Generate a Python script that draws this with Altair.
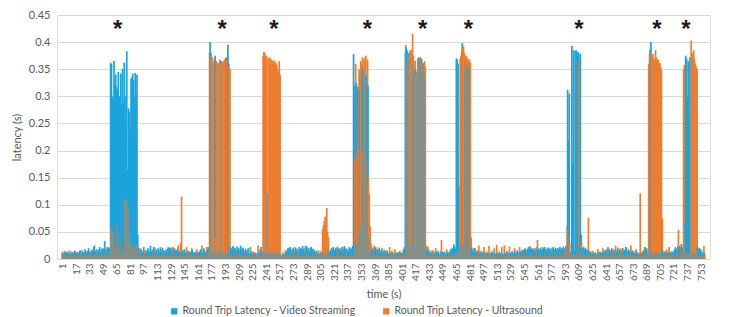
import altair as alt
import pandas as pd

N_TIMES = 757
TIMES = list(range(1, N_TIMES + 1))
X_TICKS = list(range(1, N_TIMES + 1, 16))
Y_TICKS = [0, 0.05, 0.1, 0.15, 0.2, 0.25, 0.3, 0.35, 0.4, 0.45]
SERIES = ["Round Trip Latency - Video Streaming", "Round Trip Latency - Ultrasound"]
COLORS = ["#1CA3DC", "#ED7D31"]
STAR_TIMES = [66, 189, 250, 360, 425, 479, 609, 701, 735]
STAR_LEVEL = 0.409

# Round trip latency, milliseconds, one value per second (rows of 20 seconds)
VIDEO_MS = [
    12, 10, 8, 14, 11, 9, 13, 10, 12, 8, 11, 14, 9, 12, 10, 15, 11, 9, 13, 10,
    12, 16, 10, 9, 14, 11, 13, 18, 10, 12, 15, 20, 11, 14, 12, 17, 13, 22, 25, 15,
    14, 18, 12, 16, 22, 13, 19, 15, 20, 17, 33, 18, 16, 22, 19, 21, 18, 362, 360, 300,
    295, 365, 322, 340, 318, 312, 345, 300, 290, 342, 285, 350, 288, 362, 300, 245, 383, 165, 278, 272,
    238, 332, 335, 342, 330, 300, 343, 305, 340, 45, 20, 15, 12, 18, 10, 14, 22, 12, 9, 16,
    11, 20, 13, 10, 24, 15, 12, 19, 22, 14, 10, 17, 12, 20, 15, 11, 18, 13, 21, 16,
    12, 15, 10, 18, 13, 22, 20, 16, 21, 14, 18, 12, 20, 15, 17, 13, 19, 11, 15, 12,
    14, 10, 16, 12, 18, 11, 13, 9, 15, 12, 10, 14, 11, 17, 12, 9, 13, 10, 15, 11,
    12, 10, 14, 18, 12, 9, 16, 20, 14, 11, 15, 18, 22, 10, 400, 380, 12, 10, 15, 11,
    375, 12, 10, 14, 11, 10, 13, 365, 12, 10, 15, 11, 12, 372, 12, 395, 360, 12, 22, 18,
    20, 24, 15, 21, 19, 12, 23, 17, 20, 14, 25, 18, 12, 21, 16, 10, 19, 14, 12, 20,
    10, 8, 15, 11, 9, 7, 12, 8, 10, 6, 9, 12, 8, 18, 22, 14, 12, 10, 14, 11,
    10, 120, 12, 10, 11, 13, 10, 12, 11, 10, 12, 10, 11, 13, 10, 12, 11, 8, 6, 7,
    9, 6, 8, 10, 14, 18, 20, 15, 22, 19, 13, 17, 21, 12, 16, 20, 14, 18, 12, 22,
    16, 20, 14, 24, 19, 13, 21, 17, 23, 15, 20, 12, 18, 22, 16, 19, 13, 17, 11, 15,
    9, 12, 8, 10, 14, 11, 9, 13, 10, 12, 8, 11, 9, 14, 12, 10, 16, 20, 15, 22,
    18, 14, 21, 17, 23, 19, 12, 20, 16, 22, 14, 18, 24, 20, 15, 19, 13, 17, 22, 16,
    20, 18, 24, 378, 320, 30, 325, 25, 318, 40, 312, 340, 60, 350, 352, 345, 80, 340, 338, 330,
    320, 40, 15, 12, 14, 18, 12, 20, 15, 22, 11, 18, 13, 21, 16, 10, 19, 14, 12, 17,
    11, 15, 9, 13, 10, 8, 12, 9, 14, 10, 7, 11, 8, 12, 9, 10, 13, 8, 11, 9,
    12, 10, 18, 22, 380, 390, 385, 375, 380, 370, 20, 25, 330, 360, 345, 340, 350, 20, 345, 335,
    372, 368, 350, 370, 345, 360, 355, 340, 20, 15, 12, 18, 10, 14, 9, 12, 16, 11, 8, 13,
    10, 14, 9, 12, 8, 11, 15, 10, 13, 9, 12, 8, 10, 14, 11, 9, 13, 18, 12, 20,
    16, 27, 22, 18, 370, 368, 360, 134, 15, 30, 25, 398, 20, 30, 350, 365, 340, 360, 355, 350,
    360, 20, 22, 15, 18, 12, 20, 14, 10, 16, 12, 9, 14, 11, 8, 12, 10, 13, 9, 11,
    8, 12, 10, 7, 11, 9, 13, 8, 10, 12, 9, 7, 11, 10, 8, 12, 9, 11, 7, 10,
    9, 12, 8, 10, 13, 9, 11, 8, 12, 10, 14, 9, 11, 13, 10, 12, 15, 11, 9, 14,
    12, 16, 13, 18, 15, 20, 17, 14, 19, 22, 16, 18, 21, 15, 19, 17, 20, 14, 18, 22,
    16, 19, 15, 21, 17, 14, 20, 18, 22, 16, 19, 15, 21, 18, 17, 20, 14, 19, 22, 16,
    18, 21, 15, 20, 17, 19, 22, 16, 20, 18, 23, 17, 20, 24, 18, 312, 220, 305, 12, 10,
    393, 175, 385, 15, 384, 385, 12, 382, 380, 20, 378, 45, 20, 18, 22, 16, 20, 14, 18, 12,
    10, 15, 12, 9, 14, 11, 8, 12, 10, 7, 11, 9, 13, 8, 10, 12, 9, 14, 11, 16,
    12, 18, 14, 10, 19, 15, 12, 20, 16, 11, 17, 13, 9, 15, 21, 12, 18, 14, 10, 16,
    20, 13, 17, 11, 22, 15, 12, 18, 14, 9, 13, 16, 11, 8, 12, 10, 14, 9, 11, 8,
    10, 7, 12, 9, 14, 18, 22, 16, 20, 15, 12, 10, 385, 400, 12, 10, 11, 13, 10, 12,
    11, 10, 12, 10, 11, 13, 70, 15, 12, 9, 14, 11, 8, 12, 10, 15, 11, 9, 13, 10,
    14, 18, 22, 16, 20, 25, 18, 24, 20, 28, 22, 10, 12, 65, 375, 370, 300, 365, 262, 372,
    12, 370, 10, 11, 12, 10, 12, 10, 22, 18, 20, 15, 18, 12, 10, 14, 11,
]

ULTRA_MS = [
    12, 6, 15, 5, 7, 14, 5, 6, 16, 5, 8, 13, 5, 6, 15, 7, 5, 12, 6, 5,
    14, 6, 5, 16, 7, 5, 13, 6, 8, 15, 5, 6, 14, 5, 7, 17, 5, 6, 13, 8,
    5, 16, 6, 5, 14, 7, 5, 18, 6, 5, 15, 7, 5, 20, 6, 8, 15, 55, 60, 55,
    50, 45, 30, 20, 65, 60, 10, 45, 20, 30, 10, 20, 12, 115, 110, 110, 105, 110, 90, 50,
    30, 25, 45, 20, 25, 20, 30, 20, 25, 20, 15, 20, 6, 5, 12, 5, 7, 16, 5, 6,
    14, 5, 7, 18, 5, 6, 15, 5, 8, 20, 6, 5, 13, 7, 5, 22, 6, 5, 14, 6,
    5, 17, 6, 5, 20, 7, 5, 14, 6, 8, 22, 5, 6, 15, 5, 7, 25, 6, 5, 30,
    115, 6, 5, 16, 7, 5, 22, 6, 5, 14, 8, 5, 20, 6, 5, 13, 7, 5, 18, 6,
    5, 14, 6, 5, 25, 7, 5, 15, 6, 5, 22, 8, 12, 380, 370, 375, 372, 365, 360, 370,
    40, 365, 360, 362, 358, 368, 345, 360, 363, 365, 362, 368, 370, 365, 372, 360, 355, 350, 6, 5,
    12, 5, 6, 15, 5, 7, 18, 5, 6, 14, 5, 8, 20, 6, 5, 13, 5, 7, 16, 5,
    6, 22, 5, 7, 14, 5, 6, 12, 5, 8, 25, 6, 5, 15, 7, 5, 375, 382, 380, 372,
    375, 118, 370, 368, 372, 362, 368, 365, 360, 366, 355, 362, 358, 350, 345, 365, 340, 6, 5, 12,
    5, 7, 16, 5, 6, 14, 5, 8, 20, 6, 5, 15, 7, 5, 22, 6, 5, 14, 8, 5,
    18, 6, 5, 13, 7, 5, 25, 6, 5, 14, 8, 5, 20, 6, 5, 15, 7, 5, 12, 6,
    5, 16, 7, 5, 14, 6, 55, 62, 70, 78, 65, 94, 50, 40, 15, 6, 5, 12, 7, 5,
    14, 6, 5, 18, 7, 5, 13, 6, 8, 22, 5, 6, 15, 5, 7, 12, 6, 5, 16, 8,
    5, 14, 6, 10, 180, 360, 190, 200, 210, 350, 200, 365, 360, 372, 200, 370, 368, 375, 180, 368,
    150, 120, 60, 30, 22, 6, 5, 25, 7, 5, 18, 6, 5, 14, 8, 5, 20, 6, 5, 13,
    7, 5, 16, 6, 5, 22, 8, 5, 14, 6, 5, 18, 7, 5, 12, 6, 5, 15, 8, 6,
    5, 14, 6, 12, 395, 370, 360, 380, 372, 385, 378, 385, 415, 375, 352, 365, 340, 345, 370, 365,
    360, 372, 365, 360, 362, 358, 365, 355, 25, 6, 22, 5, 7, 16, 5, 6, 14, 8, 5, 20,
    6, 5, 15, 7, 5, 12, 35, 6, 5, 14, 8, 5, 18, 6, 5, 13, 7, 5, 15, 6,
    5, 12, 6, 8, 15, 12, 10, 10, 370, 375, 385, 388, 392, 380, 372, 375, 368, 370, 365, 368,
    362, 40, 6, 5, 20, 7, 5, 14, 6, 5, 25, 8, 5, 15, 6, 5, 22, 7, 5, 14,
    6, 5, 24, 8, 5, 15, 6, 5, 20, 7, 5, 26, 6, 5, 14, 8, 5, 22, 6, 5,
    25, 7, 5, 15, 6, 5, 23, 8, 5, 14, 6, 5, 20, 7, 5, 16, 6, 5, 22, 8,
    5, 14, 6, 5, 18, 7, 5, 15, 6, 5, 24, 8, 5, 13, 6, 5, 20, 7, 5, 35,
    6, 5, 15, 8, 5, 22, 6, 5, 14, 7, 5, 18, 6, 5, 12, 8, 5, 16, 6, 5,
    14, 7, 5, 20, 6, 5, 13, 8, 5, 15, 6, 5, 18, 25, 60, 55, 45, 30, 8, 10,
    10, 8, 10, 9, 12, 10, 11, 10, 365, 12, 10, 30, 6, 5, 14, 7, 5, 12, 6, 76,
    5, 8, 6, 5, 15, 7, 5, 12, 6, 5, 18, 8, 5, 14, 6, 5, 20, 7, 5, 13,
    6, 5, 22, 8, 5, 15, 6, 5, 18, 7, 5, 25, 6, 5, 14, 8, 5, 20, 6, 5,
    16, 7, 5, 22, 6, 5, 14, 8, 5, 25, 6, 5, 15, 7, 5, 18, 6, 5, 12, 8,
    121, 6, 5, 14, 7, 5, 20, 6, 5, 15, 360, 378, 388, 380, 372, 378, 370, 368, 385, 372,
    365, 368, 360, 362, 355, 348, 75, 6, 14, 5, 7, 18, 6, 5, 22, 8, 5, 14, 6, 5,
    13, 7, 5, 16, 6, 54, 8, 5, 20, 6, 12, 350, 358, 60, 10, 12, 10, 11, 10, 12,
    403, 380, 370, 385, 368, 360, 355, 350, 6, 5, 14, 7, 5, 12, 6, 24, 8,
]

assert len(VIDEO_MS) == N_TIMES, len(VIDEO_MS)
assert len(ULTRA_MS) == N_TIMES, len(ULTRA_MS)

# clustered columns: per second, video bar then ultrasound bar (drawing order kept)
rows = []
for t, v, u in zip(TIMES, VIDEO_MS, ULTRA_MS):
    rows.append({"t": t, "series": SERIES[0], "k": 0, "latency": v / 1000})
    rows.append({"t": t, "series": SERIES[1], "k": 1, "latency": u / 1000})
df = pd.DataFrame(rows)

stars = pd.DataFrame({"t": STAR_TIMES, "level": [STAR_LEVEL] * len(STAR_TIMES),
                      "label": ["*"] * len(STAR_TIMES)})

FONT = "Lato"
GREY_TXT = "#595959"
GRID = "#D9D9D9"

x_scale = alt.Scale(domain=[0.5, N_TIMES + 0.5], nice=False, zero=False)
y_scale = alt.Scale(domain=[0, 0.45], nice=False)

x_axis = alt.Axis(values=X_TICKS, labelAngle=-90, labelBaseline="middle", labelAlign="right",
                  grid=False, ticks=False,
                  domainColor=GRID, labelColor=GREY_TXT, labelFontSize=10,
                  labelPadding=4, labelOverlap=False, labelFont=FONT,
                  title="time (s)", titleFontSize=11, titleColor=GREY_TXT,
                  titleFontWeight="normal", titleFont=FONT, titlePadding=8)
y_axis = alt.Axis(values=Y_TICKS, format=".2~f", grid=True, gridColor=GRID,
                  domain=False, ticks=False, labelColor=GREY_TXT, labelFontSize=11,
                  labelPadding=7, labelFont=FONT, title="latency (s)",
                  titleFontSize=11, titleColor=GREY_TXT, titleFontWeight="normal",
                  titleFont=FONT, titlePadding=6)

bars = alt.Chart(df).transform_calculate(
    x0="datum.t - 1.25 + 0.5 * datum.k",
    x1="datum.t + 0.75 + 0.5 * datum.k",
    base="0",
).mark_bar(clip=True, strokeWidth=0, orient="vertical").encode(
    x=alt.X("x0:Q", scale=x_scale, axis=x_axis),
    x2=alt.X2("x1"),
    y=alt.Y("latency:Q", stack=None, scale=y_scale, axis=y_axis),
    y2=alt.Y2("base"),
    color=alt.Color("series:N", scale=alt.Scale(domain=SERIES, range=COLORS),
                    legend=alt.Legend(orient="none", legendX=112, legendY=291,
                                      direction="horizontal", title=None,
                                      symbolType="square", symbolSize=40,
                                      symbolStrokeWidth=0, labelFontSize=10.5,
                                      labelColor=GREY_TXT, labelFont=FONT,
                                      labelLimit=400,
                                      columnPadding=24, labelOffset=3)),
)

star_layer = alt.Chart(stars).mark_text(font="Liberation Sans", fontSize=24,
                                        fontWeight="bold", color="#1a1a1a",
                                        baseline="alphabetic").encode(
    x=alt.X("t:Q", axis=x_axis),
    y=alt.Y("level:Q", axis=y_axis),
    text="label:N",
)

chart = alt.layer(bars, star_layer).properties(
    width=653, height=244,
    padding={"left": 49, "top": 7, "right": 20, "bottom": 58},
    autosize=alt.AutoSizeParams(type="none"),
    background="white",
).configure_view(strokeWidth=0).configure(font=FONT).configure_axis(labelOverlap=False)

chart.save("out.html", embed_options={"renderer": "svg", "actions": False})
